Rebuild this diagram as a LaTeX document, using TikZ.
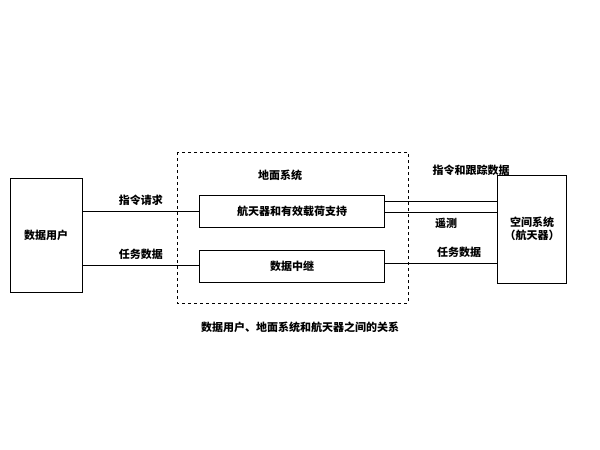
\documentclass[tikz,border=0pt]{standalone}
\usepackage{fontspec}
\setmainfont{Noto Sans CJK SC}
\usetikzlibrary{positioning}
\begin{document}
\begin{tikzpicture}[x=1pt, y=-1pt, font=\fontsize{11}{13}\selectfont\bfseries]
            \tikzstyle{box} = [rectangle, draw, thick, inner sep=0pt]
            \tikzstyle{link} = [thick]
            \useasboundingbox (0,0) rectangle (600,450);

            % Systems
            \node [box, minimum width=72, minimum height=114] (user) at (46,235) {数据用户};
            \node [box, minimum width=69, minimum height=108, align=center] (space) at (532,229) {空间系统\\（航天器）};

            % Ground system
            \draw [thick, dashed] (177,152) rectangle (408,303);
            \node (ground) at (280,175) {地面系统};
            \node [box, minimum width=185, minimum height=32] (support) at (292,211) {航天器和有效载荷支持};
            \node [box, minimum width=185, minimum height=32] (relay) at (292,266) {数据中继};

            % Links
            \draw [link] (user.east |- 0,211) -- (support.west) node[midway, above=2pt] {指令请求};
            \draw [link] (user.east |- 0,265) -- (relay.west |- 0,265) node[midway, above=2pt] {任务数据};
            \draw [link] (support.east |- 0,201) -- (space.west |- 0,201) node[midway, above=22pt, xshift=30pt] {指令和跟踪数据};
            \draw [link] (support.east |- 0,212) -- (space.west |- 0,212) node[midway, below=2pt, xshift=5pt] {遥测};
            \draw [link] (relay.east |- 0,263) -- (space.west |- 0,263) node[midway, above=2pt, xshift=18pt] {任务数据};

            % Caption
            \node (caption) at (300,327) {数据用户、地面系统和航天器之间的关系};
        \end{tikzpicture}
\end{document}
